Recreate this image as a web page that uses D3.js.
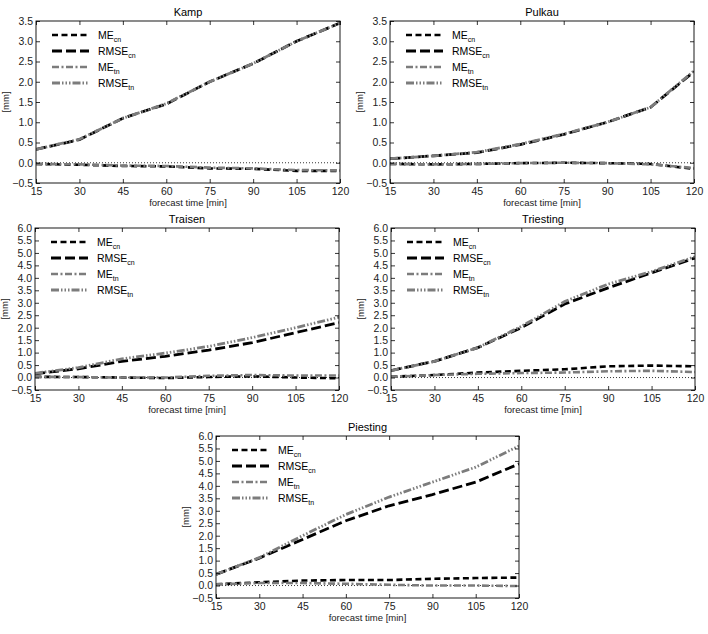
<!DOCTYPE html>
<html>
<head>
<meta charset="utf-8">
<script src="https://cdn.jsdelivr.net/npm/d3@7"></script>
<style>
  body { margin: 0; background: #fff; }
  svg { font-family: "Liberation Sans", Arial, sans-serif; }
</style>
</head>
<body>
<div class="chart"></div>
<script>
const minutes = [15, 30, 45, 60, 75, 90, 105, 120];
const ticksLow = [-0.5, 0, 0.5, 1, 1.5, 2, 2.5, 3, 3.5];
const ticksHigh = [-0.5, 0, 0.5, 1, 1.5, 2, 2.5, 3, 3.5, 4, 4.5, 5, 5.5, 6];
const seriesNames = ["ME", "RMSE", "ME", "RMSE"];
const seriesSubs = ["cn", "cn", "tn", "tn"];

const kampMEcn = [-0.03, -0.05, -0.08, -0.09, -0.14, -0.15, -0.2, -0.2];
const kampRMSEcn = [0.33, 0.57, 1.1, 1.45, 2.0, 2.45, 3.0, 3.45];
const kampMEtn = [-0.03, -0.04, -0.07, -0.08, -0.12, -0.14, -0.18, -0.19];
const kampRMSEtn = [0.33, 0.58, 1.1, 1.46, 2.0, 2.45, 3.0, 3.45];

const pulkauMEcn = [-0.03, -0.04, -0.03, -0.01, 0.0, -0.01, -0.03, -0.15];
const pulkauRMSEcn = [0.1, 0.17, 0.25, 0.45, 0.7, 1.0, 1.37, 2.25];
const pulkauMEtn = [-0.03, -0.04, -0.03, -0.01, 0.0, -0.01, -0.04, -0.13];
const pulkauRMSEtn = [0.1, 0.17, 0.26, 0.46, 0.71, 1.0, 1.37, 2.27];

const traisenMEcn = [0.03, 0.02, 0.0, -0.02, 0.02, 0.05, 0.0, -0.03];
const traisenRMSEcn = [0.15, 0.35, 0.65, 0.85, 1.1, 1.4, 1.8, 2.2];
const traisenMEtn = [0.03, 0.02, 0.0, 0.0, 0.07, 0.1, 0.08, 0.08];
const traisenRMSEtn = [0.17, 0.4, 0.75, 0.98, 1.25, 1.6, 2.0, 2.42];

const triestingMEcn = [0.03, 0.1, 0.2, 0.27, 0.33, 0.45, 0.48, 0.45];
const triestingRMSEcn = [0.28, 0.65, 1.2, 2.0, 2.95, 3.6, 4.2, 4.8];
const triestingMEtn = [0.03, 0.1, 0.15, 0.18, 0.2, 0.25, 0.27, 0.22];
const triestingRMSEtn = [0.28, 0.65, 1.2, 2.05, 3.05, 3.75, 4.25, 4.85];

const piestingMEcn = [0.05, 0.13, 0.2, 0.22, 0.22, 0.27, 0.3, 0.32];
const piestingRMSEcn = [0.45, 1.1, 1.85, 2.6, 3.2, 3.65, 4.15, 4.88];
const piestingMEtn = [0.05, 0.1, 0.1, 0.07, 0.03, 0.0, 0.0, -0.02];
const piestingRMSEtn = [0.45, 1.12, 2.0, 2.85, 3.55, 4.15, 4.75, 5.6];

// line styles for ME_cn, RMSE_cn, ME_tn, RMSE_tn
const styles = [
    {color: "#000", dash: "6,3.5", width: 2.6},
    {color: "#000", dash: "10,4", width: 2.8},
    {color: "#7c7c7c", dash: "7,2.5,2,2.5", width: 2.6},
    {color: "#7c7c7c", dash: "8,2,1.5,2,1.5,2,1.5,2", width: 2.8}
];

const panels = [
    {title: "Kamp", left: 36, top: 21, width: 304, height: 162, yMax: 3.5, ticks: ticksLow,
        series: [kampMEcn, kampRMSEcn, kampMEtn, kampRMSEtn]},
    {title: "Pulkau", left: 390, top: 21, width: 304, height: 162, yMax: 3.5, ticks: ticksLow,
        series: [pulkauMEcn, pulkauRMSEcn, pulkauMEtn, pulkauRMSEtn]},
    {title: "Traisen", left: 35, top: 228, width: 304, height: 162, yMax: 6, ticks: ticksHigh,
        series: [traisenMEcn, traisenRMSEcn, traisenMEtn, traisenRMSEtn]},
    {title: "Triesting", left: 391, top: 228, width: 304, height: 162, yMax: 6, ticks: ticksHigh,
        series: [triestingMEcn, triestingRMSEcn, triestingMEtn, triestingRMSEtn]},
    {title: "Piesting", left: 216, top: 436, width: 303, height: 162, yMax: 6, ticks: ticksHigh,
        series: [piestingMEcn, piestingRMSEcn, piestingMEtn, piestingRMSEtn]}
];

var svg = d3.select(".chart").append("svg")
        .attr("width", 708)
        .attr("height", 634);

panels.forEach(function (p) {
    var g = svg.append("g").attr("transform", "translate(" + p.left + "," + p.top + ")");
    var x = d3.scaleLinear().domain([15, 120]).range([0, p.width]);
    var y = d3.scaleLinear().domain([-0.5, p.yMax]).range([p.height, 0]);

    var clipId = "clip-" + p.title;
    g.append("clipPath").attr("id", clipId)
            .append("rect").attr("width", p.width).attr("height", p.height);

    // zero line
    g.append("line")
            .attr("x1", 0).attr("x2", p.width)
            .attr("y1", y(0)).attr("y2", y(0))
            .attr("stroke", "#000").attr("stroke-width", 0.8)
            .attr("stroke-dasharray", "1,2");

    var line = d3.line()
            .x((d, i) => x(minutes[i]))
            .y((d) => y(d));

    var lines = g.append("g").attr("clip-path", "url(#" + clipId + ")");
    p.series.forEach(function (s, i) {
        lines.append("path")
                .datum(s)
                .attr("d", line)
                .attr("fill", "none")
                .attr("stroke", styles[i].color)
                .attr("stroke-width", styles[i].width)
                .attr("stroke-dasharray", styles[i].dash);
    });

    // axes, ticks pointing inward on all sides
    var fmt = d3.format(".1f");
    g.append("g").attr("transform", "translate(0," + p.height + ")")
            .call(d3.axisBottom(x).tickValues(minutes).tickSizeInner(-4).tickSizeOuter(0).tickPadding(5));
    g.append("g")
            .call(d3.axisTop(x).tickValues(minutes).tickSizeInner(-4).tickSizeOuter(0).tickFormat(""));
    g.append("g")
            .call(d3.axisLeft(y).tickValues(p.ticks).tickFormat((d) => fmt(d).replace("-", "\u2212"))
                    .tickSizeInner(-4).tickSizeOuter(0).tickPadding(3));
    g.append("g").attr("transform", "translate(" + p.width + ",0)")
            .call(d3.axisRight(y).tickValues(p.ticks).tickSizeInner(-4).tickSizeOuter(0).tickFormat(""));
    g.selectAll(".domain").remove();
    g.selectAll(".tick text").attr("font-size", 10.5).attr("fill", "#222")
            .attr("font-family", "Liberation Sans, Arial, sans-serif");
    g.selectAll(".tick line").attr("stroke", "#000").attr("stroke-width", 0.8);

    g.append("rect")
            .attr("width", p.width).attr("height", p.height)
            .attr("fill", "none").attr("stroke", "#000").attr("stroke-width", 0.9);

    g.append("text")
            .attr("x", p.width / 2).attr("y", -5)
            .attr("text-anchor", "middle")
            .attr("font-size", 11)
            .text(p.title);

    g.append("text")
            .attr("x", p.width / 2).attr("y", p.height + 23)
            .attr("text-anchor", "middle")
            .attr("font-size", 9.5)
            .attr("fill", "#222")
            .text("forecast time [min]");

    g.append("text")
            .attr("transform", "translate(-27," + (p.height / 2) + ") rotate(-90)")
            .attr("text-anchor", "middle")
            .attr("font-size", 9.5)
            .attr("fill", "#222")
            .text("[mm]");

    // legend
    var legend = g.append("g").attr("transform", "translate(16,14)");
    styles.forEach(function (st, i) {
        var row = legend.append("g").attr("transform", "translate(0," + (i * 16) + ")");
        row.append("line")
                .attr("x1", 0).attr("x2", 37)
                .attr("stroke", st.color)
                .attr("stroke-width", st.width)
                .attr("stroke-dasharray", st.dash);
        var t = row.append("text")
                .attr("x", 46).attr("y", 4)
                .attr("font-size", 10.5);
        t.append("tspan").text(seriesNames[i]);
        t.append("tspan").attr("font-size", 7).attr("dy", 3).text(seriesSubs[i]);
    });
});
</script>
</body>
</html>
